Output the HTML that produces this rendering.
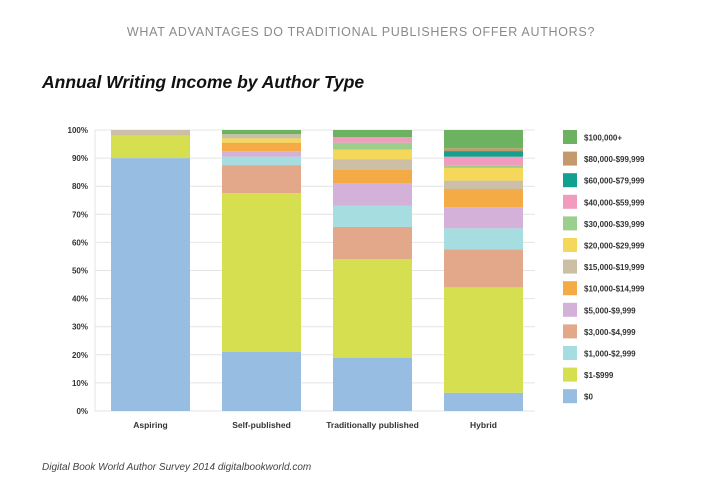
<!DOCTYPE html>
<html><head><meta charset="utf-8"><style>
html,body{margin:0;padding:0;background:#fff;width:720px;height:492px;overflow:hidden}
svg{display:block}
text{font-family:"Liberation Sans",sans-serif}
</style></head><body>
<svg id="s" width="720" height="492" xmlns="http://www.w3.org/2000/svg">
<text x="361" y="36" text-anchor="middle" font-size="12.5" fill="#8a8a8a" letter-spacing="0.7">WHAT ADVANTAGES DO TRADITIONAL PUBLISHERS OFFER AUTHORS?</text>
<text x="42" y="88" font-size="17.5" font-weight="bold" font-style="italic" fill="#111">Annual Writing Income by Author Type</text>
<text x="42" y="470" font-size="10" font-style="italic" fill="#444">Digital Book World Author Survey 2014 digitalbookworld.com</text>
<g id="g"></g>
</svg>
<script>
var g=document.getElementById('g'),ns='http://www.w3.org/2000/svg';
function el(t,a,txt){var e=document.createElementNS(ns,t);for(var k in a)e.setAttribute(k,a[k]);if(txt)e.textContent=txt;g.appendChild(e);return e;}
var y0=411,H=281,L=95,R=535;
for(var i=0;i<=10;i++){var y=y0-H*i/10;el('line',{x1:L,x2:R,y1:y,y2:y,stroke:'#e4e4e4','stroke-width':1});
el('text',{x:88,y:y+3,'text-anchor':'end','font-size':8,'font-weight':'bold',fill:'#333'},(i*10)+'%');}
el('line',{x1:L,x2:L,y1:y0-H,y2:y0,stroke:'#e4e4e4'});
var C={z:'#97bde3',a:'#d6df50',b:'#a6dde0',c:'#e3a88a',d:'#d4b1d8',e:'#f4ab45',f:'#cdbfa6',h:'#f5d75a',i:'#9ccf8e',j:'#f29bbf',k:'#12a08f',l:'#c49a6c',m:'#6db260'};
var bars=[
 [111,'Aspiring',[['z',90],['a',98],['f',100]]],
 [222,'Self-published',[['z',21],['a',77.5],['c',87.5],['b',90.5],['d',92.5],['e',95.5],['h',97],['f',98.5],['m',100]]],
 [333,'Traditionally published',[['z',19],['a',54],['c',65.5],['b',73],['d',81],['e',86],['f',89.5],['h',93],['i',95.5],['j',97.5],['m',100]]],
 [444,'Hybrid',[['z',6.5],['a',44],['c',57.5],['b',65],['d',72.5],['e',79],['f',82],['h',86.5],['i',87.5],['j',90.5],['k',92.5],['l',93.5],['m',100]]]];
bars.forEach(function(b){var p=0;b[2].forEach(function(s){var yt=y0-H*s[1]/100,yb=y0-H*p/100;
el('rect',{x:b[0],y:yt,width:79,height:yb-yt,fill:C[s[0]]});p=s[1];});
el('text',{x:b[0]+39.5,y:428,'text-anchor':'middle','font-size':8.5,'font-weight':'bold',fill:'#333'},b[1]);});
var lg=[['m','$100,000+'],['l','$80,000-$99,999'],['k','$60,000-$79,999'],['j','$40,000-$59,999'],['i','$30,000-$39,999'],['h','$20,000-$29,999'],['f','$15,000-$19,999'],['e','$10,000-$14,999'],['d','$5,000-$9,999'],['c','$3,000-$4,999'],['b','$1,000-$2,999'],['a','$1-$999'],['z','$0']];
lg.forEach(function(l,i){var y=130+i*21.6;el('rect',{x:563,y:y,width:14,height:14,fill:C[l[0]]});
el('text',{x:584,y:y+10.5,'font-size':8,'font-weight':'bold',fill:'#333'},l[1]);});
</script>
</body></html>
